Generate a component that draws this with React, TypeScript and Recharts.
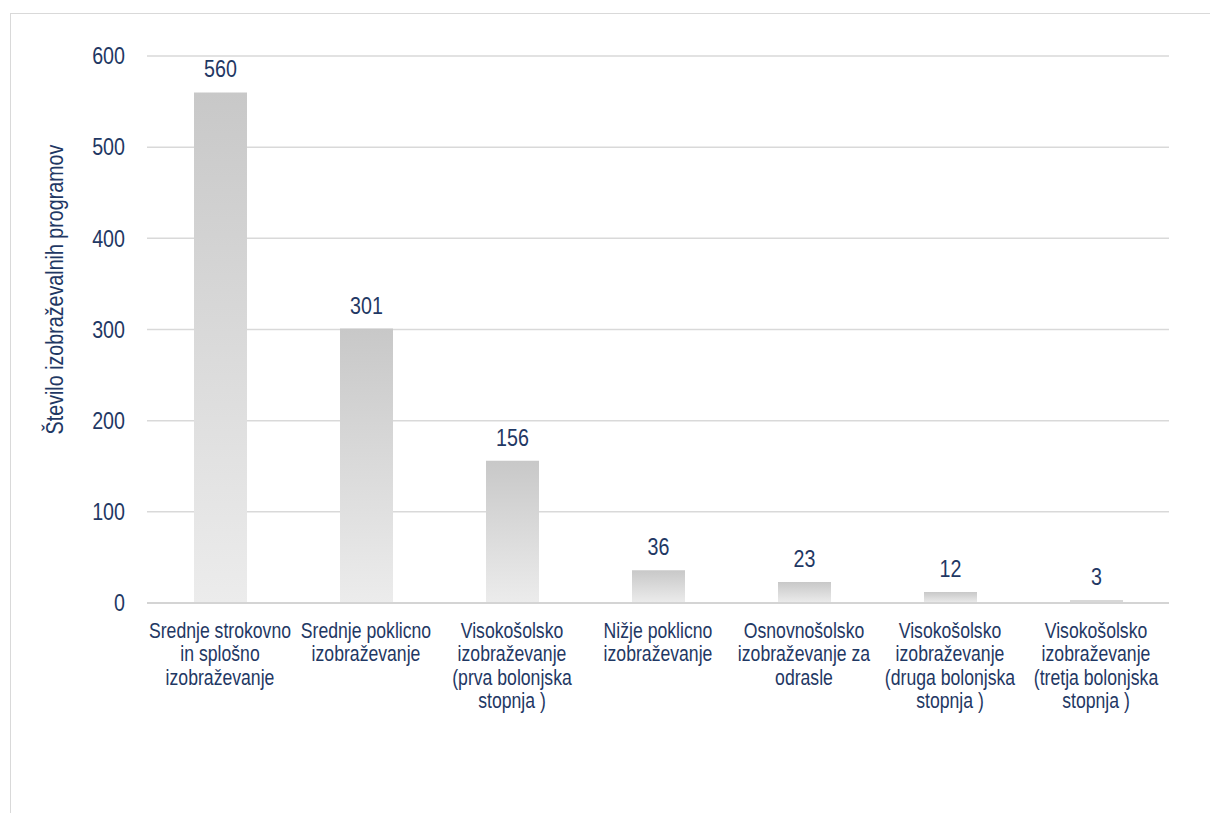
import React from "react";
import { BarChart, Bar, XAxis, YAxis, CartesianGrid, LabelList } from "recharts";

const categories = [
  "Srednje strokovno\nin splošno\nizobraževanje",
  "Srednje poklicno\nizobraževanje",
  "Visokošolsko\nizobraževanje\n(prva bolonjska\nstopnja )",
  "Nižje poklicno\nizobraževanje",
  "Osnovnošolsko\nizobraževanje za\nodrasle",
  "Visokošolsko\nizobraževanje\n(druga bolonjska\nstopnja )",
  "Visokošolsko\nizobraževanje\n(tretja bolonjska\nstopnja )",
];
const programCounts = [560, 301, 156, 36, 23, 12, 3];
const yTicks = [0, 100, 200, 300, 400, 500, 600];
const yAxisTitle = "Število izobraževalnih programov";

const data = categories.map((name, i) => ({ name, value: programCounts[i] }));

const FONT = "'Liberation Sans', Arial, sans-serif";
const TEXT = "#1f3864";
const SX = 0.82;

const CategoryTick = (props: any) => {
  const { x, y, payload } = props;
  const lines = String(payload.value).split("\n");
  return (
    <g transform={`translate(${x},${y}) scale(${SX},1)`}>
      <text x={0} y={0} textAnchor="middle" fill={TEXT} fontFamily={FONT} fontSize={21.5}>
        {lines.map((ln, i) => (
          <tspan key={i} x={0} dy={i === 0 ? 35 : 23.5}>
            {ln}
          </tspan>
        ))}
      </text>
    </g>
  );
};

const ValueTick = (props: any) => {
  const { x, y, payload } = props;
  return (
    <g transform={`translate(${x},${y}) scale(${SX},1)`}>
      <text x={0} y={0} textAnchor="end" dominantBaseline="central" fill={TEXT} fontFamily={FONT} fontSize={24}>
        {payload.value}
      </text>
    </g>
  );
};

const BarValueLabel = (props: any) => {
  const { x, y, width, value } = props;
  const cx = Number(x) + Number(width) / 2;
  const cy = Number(y) - 15;
  return (
    <g transform={`translate(${cx},${cy}) scale(${SX},1)`}>
      <text x={0} y={0} textAnchor="middle" fill={TEXT} fontFamily={FONT} fontSize={24}>
        {value}
      </text>
    </g>
  );
};

const AxisTitle = (props: any) => {
  const vb = props.viewBox || { x: 0, y: 0, width: 0, height: 0 };
  const cx = vb.x + 8;
  const cy = vb.y + vb.height / 2 - 40;
  return (
    <g transform={`translate(${cx},${cy}) rotate(-90) scale(${SX},1)`}>
      <text
        x={0}
        y={0}
        textAnchor="middle"
        dominantBaseline="central"
        fill={TEXT}
        fontFamily={FONT}
        fontSize={24}
      >
        {yAxisTitle}
      </text>
    </g>
  );
};

export default function App() {
  return (
    <div style={{ position: "relative", width: 1202, height: 805, overflow: "hidden", background: "#fff" }}>
      <div
        style={{
          position: "absolute",
          left: 2,
          top: 5,
          width: 1240,
          height: 900,
          border: "1.5px solid #d9d9d9",
          boxSizing: "border-box",
        }}
      />
      <div style={{ position: "absolute", left: 0, top: 0 }}>
        <BarChart
          width={1202}
          height={805}
          data={data}
          margin={{ top: 48, right: 41, left: 39, bottom: 130 }}
        >
          <defs>
            <linearGradient id="barGrad" x1="0" y1="0" x2="0" y2="1">
              <stop offset="0%" stopColor="#c8c8c8" />
              <stop offset="100%" stopColor="#ececec" />
            </linearGradient>
          </defs>
          <CartesianGrid vertical={false} stroke="#d9d9d9" strokeWidth={1.5} />
          <XAxis
            dataKey="name"
            height={80}
            interval={0}
            tickLine={false}
            tickSize={0}
            tickMargin={0}
            axisLine={{ stroke: "#d4d4d4", strokeWidth: 2 }}
            tick={<CategoryTick />}
          />
          <YAxis
            width={100}
            domain={[0, 600]}
            ticks={yTicks}
            interval={0}
            tickLine={false}
            axisLine={false}
            tickSize={0}
            tickMargin={22}
            tick={<ValueTick />}
            label={<AxisTitle />}
          />
          <Bar dataKey="value" fill="url(#barGrad)" barSize={53} isAnimationActive={false}>
            <LabelList dataKey="value" content={<BarValueLabel />} />
          </Bar>
        </BarChart>
      </div>
    </div>
  );
}
